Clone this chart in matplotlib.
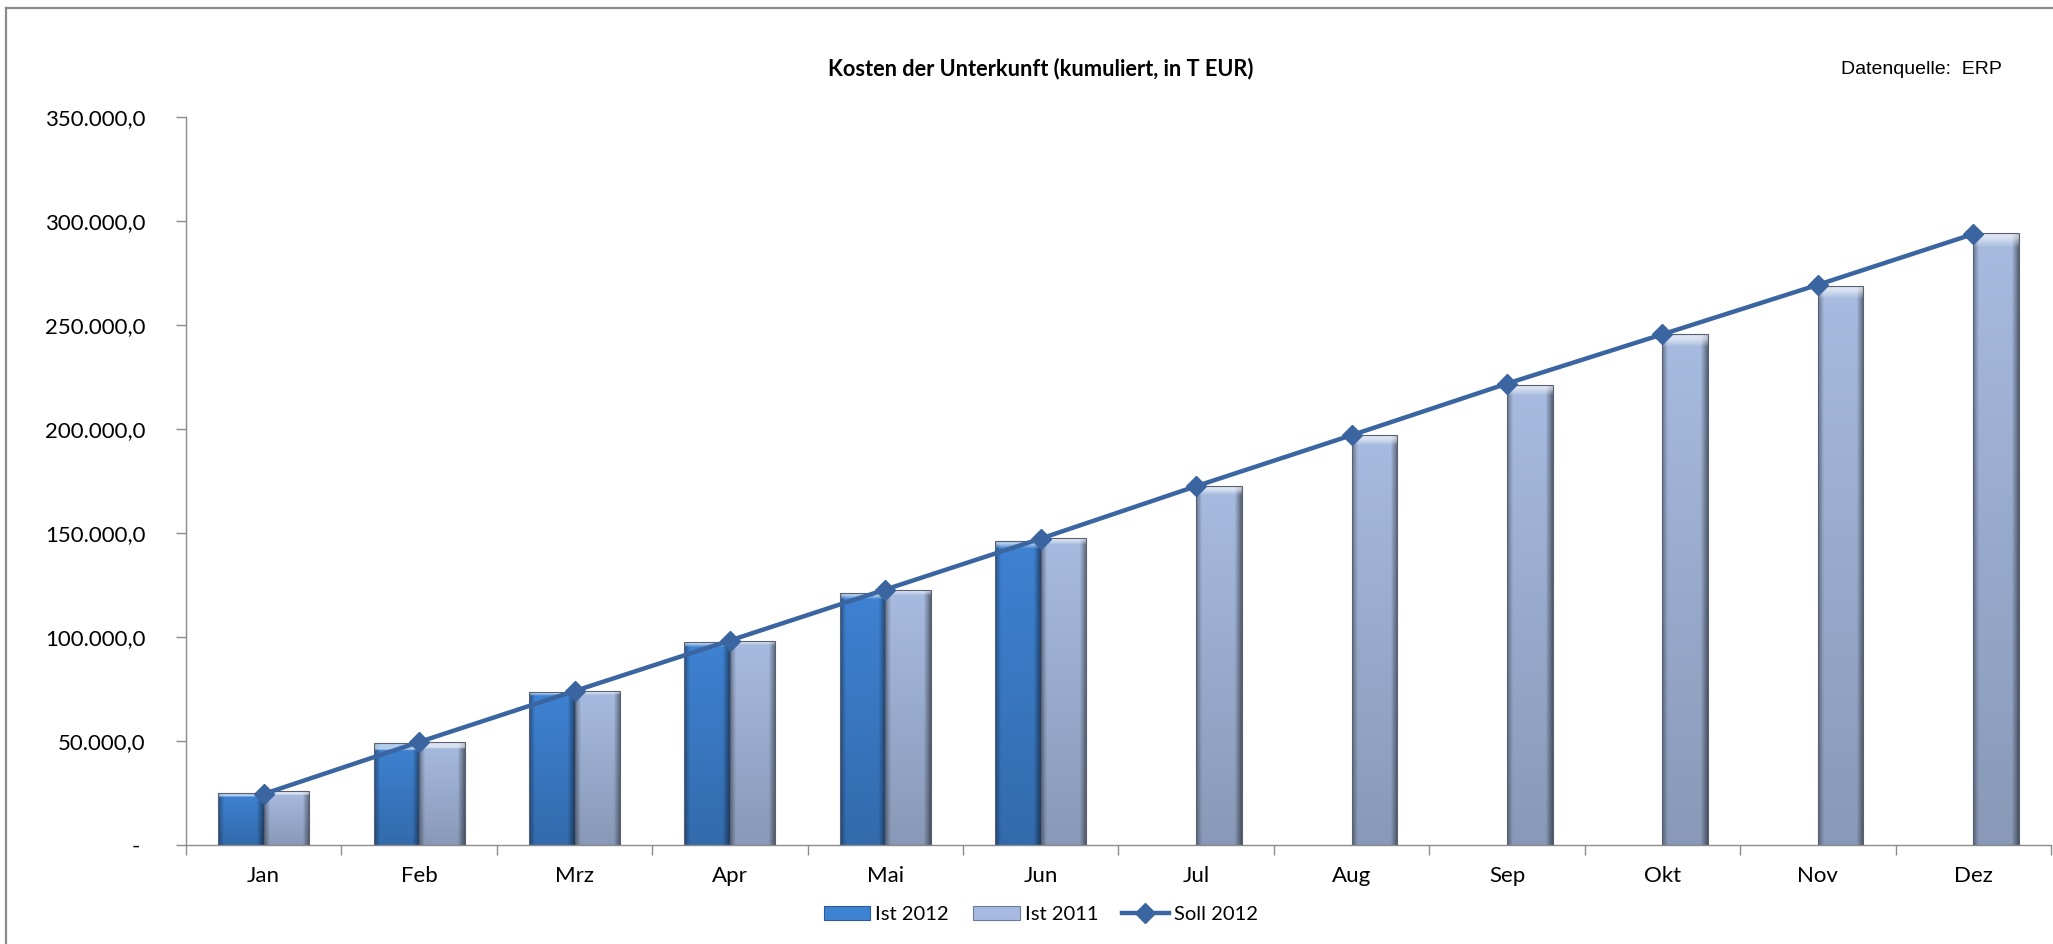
import matplotlib
matplotlib.use("Agg")
import matplotlib.pyplot as plt
import numpy as np
from matplotlib.patches import Patch, Rectangle
from matplotlib.lines import Line2D
from matplotlib.ticker import FuncFormatter, MultipleLocator
import matplotlib.colors as mcolors

months = ['Jan', 'Feb', 'Mrz', 'Apr', 'Mai', 'Jun', 'Jul', 'Aug', 'Sep', 'Okt', 'Nov', 'Dez']
ist_2012 = [24800, 48800, 73400, 97400, 121000, 146000]
ist_2011 = [25800, 49700, 74000, 98300, 122800, 147600, 172400, 197000, 221300, 245600, 268800, 294400]
soll_2012 = [24500, 49500, 74000, 98300, 122800, 147300, 172500, 197000, 221800, 245500, 269300, 293700]

title = 'Kosten der Unterkunft (kumuliert, in T EUR)'
source = 'Datenquelle:  ERP'

font = 'Lato'
c_2012 = '#3e82d2'
c_2011 = '#a7bbe0'
c_soll = '#3a65a0'
c_axis = '#8c8c8c'


def gradient_bar(ax, x0, width, height, color):
    # simple bevel look: darker side edges, lighter top, darker bottom
    base = np.array(mcolors.to_rgb(color))
    nx, ny = 40, 60
    u = np.linspace(0, 1, nx)
    v = np.linspace(0, 1, ny)[:, None]  # 0 bottom, 1 top
    side = 1 - 0.35 * (np.clip(0.12 - u, 0, None) / 0.12) - 0.45 * (np.clip(u - 0.85, 0, None) / 0.15)
    vert = 0.82 + 0.18 * v
    shade = side[None, :] * vert
    img = np.clip(base[None, None, :] * shade[:, :, None], 0, 1)
    # light top bevel
    top_rows = v[:, 0] > 0.985 if height > 60000 else v[:, 0] > 0.94
    img[top_rows] = np.clip(img[top_rows] * 0.4 + 0.6, 0, 1)
    rect = Rectangle((x0, 0), width, height, facecolor='none', edgecolor='#5a6070',
                     linewidth=0.8, zorder=3)
    ax.add_patch(rect)
    im = ax.imshow(img, extent=[x0, x0 + width, 0, height], origin='lower',
                   aspect='auto', zorder=2, interpolation='bilinear')
    im.set_clip_path(rect)


fig = plt.figure(figsize=(20.53, 9.44), dpi=100)
ax = fig.add_axes([0.0906, 0.1049, 0.9084, 0.7712])

w = 0.293
x = np.arange(len(months))
for i, v in enumerate(ist_2012):
    gradient_bar(ax, x[i] - w, w, v, c_2012)
for i, v in enumerate(ist_2011):
    gradient_bar(ax, x[i], w, v, c_2011)

ax.plot(x, soll_2012, color=c_soll, linewidth=3.2, marker='D', markersize=10,
        markerfacecolor=c_soll, markeredgecolor=c_soll, zorder=5)

ax.set_xlim(-0.5, 11.5)
ax.set_ylim(0, 350000)
ax.yaxis.set_major_locator(MultipleLocator(50000))


def fmt(val, pos):
    if val == 0:
        return '- '
    return f'{val:,.1f}'.replace(',', 'X').replace('.', ',').replace('X', '.')


ax.yaxis.set_major_formatter(FuncFormatter(fmt))
ax.set_xticks(x)
ax.set_xticklabels(months)
ax.set_xticks(np.arange(-0.5, 12, 1), minor=True)
ax.tick_params(axis='x', which='major', length=0, pad=15, labelsize=16)
ax.tick_params(axis='x', which='minor', length=7, color=c_axis, width=1)
ax.tick_params(axis='y', length=7, color=c_axis, width=1, pad=22, labelsize=16)
for lab in ax.get_xticklabels() + ax.get_yticklabels():
    lab.set_fontfamily(font)

for s in ['top', 'right']:
    ax.spines[s].set_visible(False)
for s in ['left', 'bottom']:
    ax.spines[s].set_color(c_axis)
    ax.spines[s].set_linewidth(1)

fig.text(0.507, 0.927, title, ha='center', va='center', fontsize=15.7,
         fontweight='bold', family=font)
fig.text(0.975, 0.926, source, ha='right', va='center', fontsize=14,
         family='Liberation Sans')

# outer frame (top and left edges visible)
fig.add_artist(Line2D([0.003, 0.003], [0, 0.991], color='#8a8a8a', linewidth=1.6))
fig.add_artist(Line2D([0.003, 1.0], [0.991, 0.991], color='#8a8a8a', linewidth=1.6))

handles = [Patch(facecolor=c_2012, edgecolor='#2a5a9a', linewidth=0.8),
           Patch(facecolor=c_2011, edgecolor='#6c7a99', linewidth=0.8),
           Line2D([0], [0], color=c_soll, linewidth=3.2, marker='D', markersize=10)]
fig.legend(handles, ['Ist 2012', 'Ist 2011', 'Soll 2012'], loc='center',
           bbox_to_anchor=(0.507, 0.031), ncol=3, frameon=False,
           prop={'family': font, 'size': 14.5}, handlelength=2.3, handleheight=0.65,
           columnspacing=1.2, handletextpad=0.25)

fig.savefig('out.png', dpi=100)
